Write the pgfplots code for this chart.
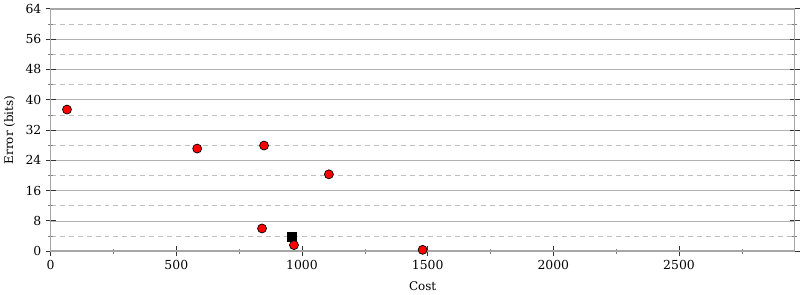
\documentclass[border=0pt]{standalone}
\usepackage{fontspec}
\setmainfont{DejaVu Serif}
\usepackage{pgfplots}
\pgfplotsset{compat=1.18}
\begin{document}
\fontsize{12.5}{14}\selectfont
\begin{tikzpicture}
\begin{axis}[
  scale only axis,
  width=746bp, height=243bp,
  xmin=0, xmax=2960, ymin=0, ymax=64,
  xtick={0,500,1000,1500,2000,2500},
  minor xtick={250,750,1250,1750,2250,2750},
  ytick={0,8,16,24,32,40,48,56,64},
  minor ytick={4,12,20,28,36,44,52,60},
  xtick pos=bottom, ytick pos=both,
  tick align=center,
  major tick length=10bp, minor tick length=5bp,
  every major tick/.style={black!80, line width=0.8pt},
  every minor tick/.style={black!50, line width=0.6pt},
  ymajorgrids, yminorgrids,
  major grid style={black!30, line width=0.6pt},
  minor grid style={black!25, dashed, dash pattern=on 5bp off 4bp, line width=0.6pt},
  axis line style={black!35, line width=1.5pt},
  /pgf/number format/assume math mode=true,
  /pgf/number format/1000 sep={},
  xlabel={Cost}, ylabel={Error (bits)},
  xlabel style={yshift=-3bp},
  ylabel style={yshift=2bp},
  tick label style={font=\fontsize{12.5}{14}\selectfont},
  label style={font=\fontsize{12}{14}\selectfont},
  clip=false,
]
\addplot[only marks, mark=square*, mark size=4.5bp, mark options={fill=black, draw=black}]
  coordinates {(960,3.7)};
\addplot[only marks, mark=*, mark size=4.5bp, mark options={fill=red, draw=black, line width=0.7pt}]
  coordinates {
  (65,37.4) (583,27.1) (849,27.9) (1107,20.3) (841,6.0) (968,1.6) (1480,0.35)
  };
\end{axis}
\end{tikzpicture}
\end{document}
